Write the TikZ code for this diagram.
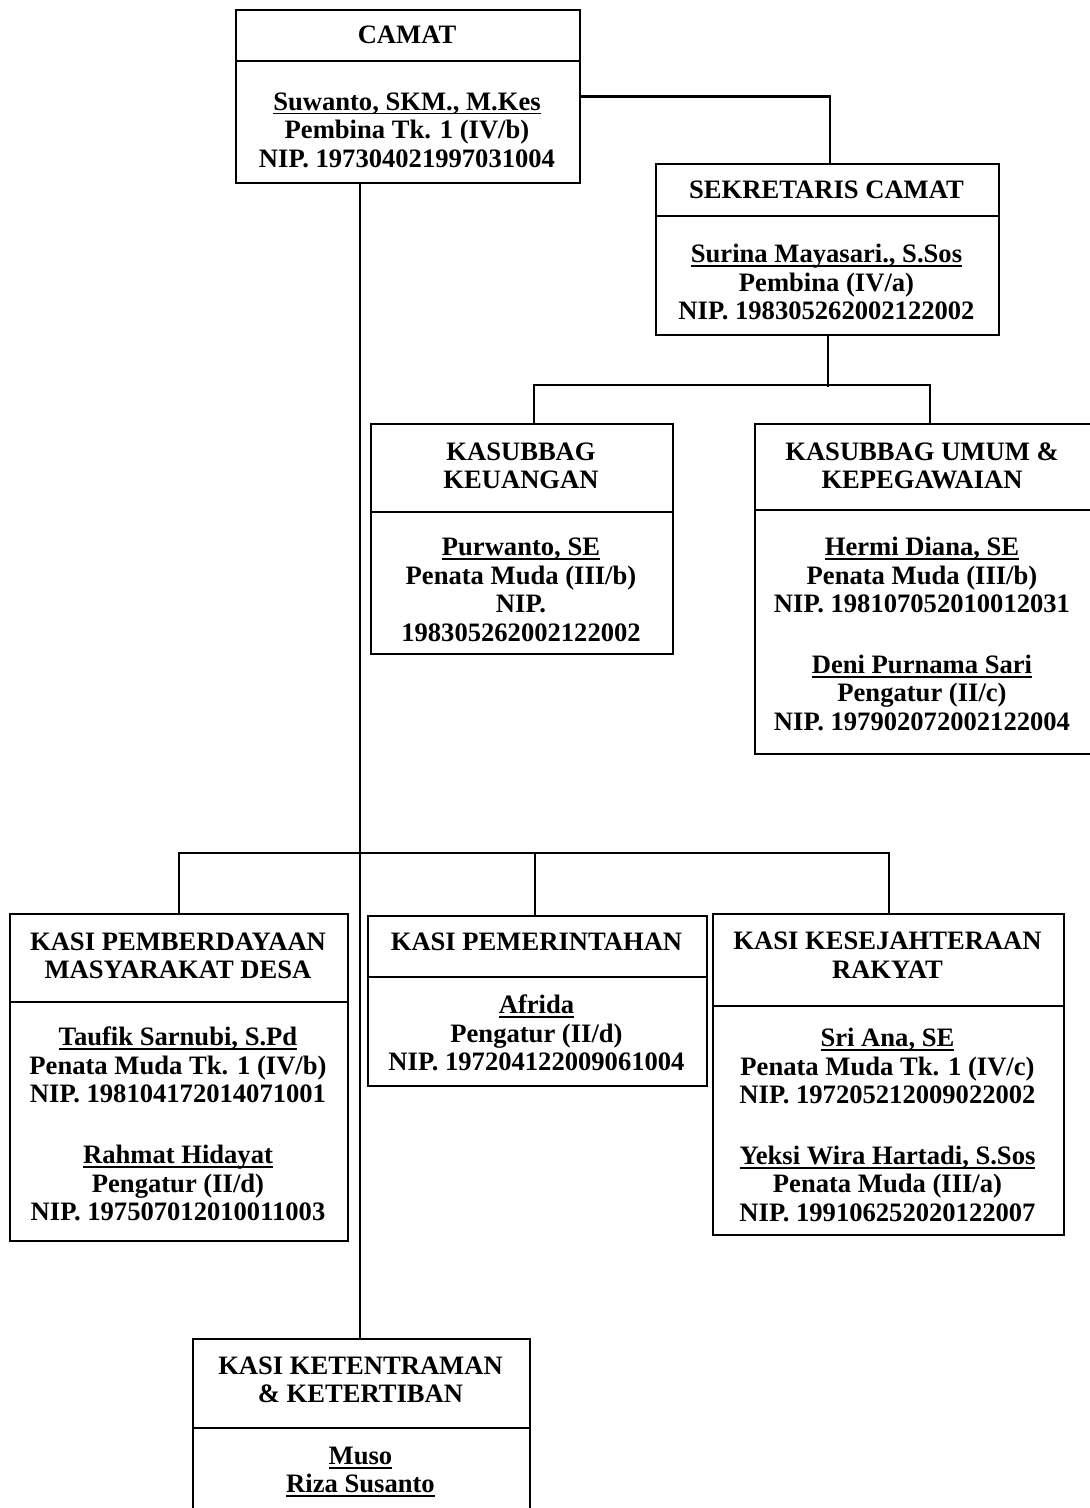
\documentclass[tikz,border=0pt]{standalone}
\usepackage{fontspec}
\setmainfont{Liberation Serif}
\newcommand{\nameul}[1]{\leavevmode\setbox0=\hbox{#1}\rlap{\rule[-2.2pt]{\wd0}{0.9pt}}\box0}
\begin{document}
\begin{tikzpicture}[x=0.5pt,y=-0.5pt,
  box/.style={draw, line width=1.1pt, inner sep=0pt, anchor=north west},
  txt/.style={align=center, inner sep=0pt, font=\fontsize{13.3pt}{14.3pt}\selectfont\bfseries},
  conn/.style={line width=1.1pt},
  divline/.style={line width=1.1pt}]
\useasboundingbox (0,0) rectangle (1089,1508);

% CAMAT
\node[box, minimum width=172pt, minimum height=86.5pt] (camat) at (235,9) {};
\draw[divline] ([yshift=-26pt]camat.north west) -- ([yshift=-26pt]camat.north east);
\node[txt] (camatT) at (407,35) {CAMAT};
\node[txt] (camatB) at (407,130) {\nameul{Suwanto, SKM., M.Kes}\\Pembina Tk. 1 (IV/b)\\NIP. 197304021997031004};

% SEKRETARIS
\node[box, minimum width=171.5pt, minimum height=85.5pt] (sek) at (655,163) {};
\draw[divline] ([yshift=-26.5pt]sek.north west) -- ([yshift=-26.5pt]sek.north east);
\node[txt] (sekT) at (826.5,190) {SEKRETARIS CAMAT};
\node[txt] (sekB) at (826.5,282) {\nameul{Surina Mayasari., S.Sos}\\Pembina (IV/a)\\NIP. 198305262002122002};

% KEUANGAN
\node[box, minimum width=151pt, minimum height=115pt] (keu) at (370,423) {};
\draw[divline] ([yshift=-44.5pt]keu.north west) -- ([yshift=-44.5pt]keu.north east);
\node[txt] (keuT) at (521,466) {KASUBBAG\\KEUANGAN};
\node[txt] (keuB) at (521,590) {\nameul{Purwanto, SE}\\Penata Muda (III/b)\\NIP.\\198305262002122002};

% UMUM
\node[box, minimum width=168pt, minimum height=165pt] (umum) at (754,423) {};
\draw[divline] ([yshift=-43.5pt]umum.north west) -- ([yshift=-43.5pt]umum.north east);
\node[txt] (umumT) at (922,466) {KASUBBAG UMUM \&\\KEPEGAWAIAN};
\node[txt] (umumB) at (922,634) {\nameul{Hermi Diana, SE}\\Penata Muda (III/b)\\NIP. 198107052010012031\\[16pt]\nameul{Deni Purnama Sari}\\Pengatur (II/c)\\NIP. 197902072002122004};

% PEMBERDAYAAN
\node[box, minimum width=169pt, minimum height=163.5pt] (pmd) at (9,913) {};
\draw[divline] ([yshift=-44.5pt]pmd.north west) -- ([yshift=-44.5pt]pmd.north east);
\node[txt] (pmdT) at (178,956) {KASI PEMBERDAYAAN\\MASYARAKAT DESA};
\node[txt] (pmdB) at (178,1124) {\nameul{Taufik Sarnubi, S.Pd}\\Penata Muda Tk. 1 (IV/b)\\NIP. 198104172014071001\\[16pt]\nameul{Rahmat Hidayat}\\Pengatur (II/d)\\NIP. 197507012010011003};

% PEMERINTAHAN
\node[box, minimum width=169.5pt, minimum height=85pt] (pem) at (367,915) {};
\draw[divline] ([yshift=-31pt]pem.north west) -- ([yshift=-31pt]pem.north east);
\node[txt] (pemT) at (536.5,942) {KASI PEMERINTAHAN};
\node[txt] (pemB) at (536.5,1033) {\nameul{Afrida}\\Pengatur (II/d)\\NIP. 197204122009061004};

% KESEJAHTERAAN
\node[box, minimum width=175.5pt, minimum height=160.5pt] (kesra) at (712,913) {};
\draw[divline] ([yshift=-46.5pt]kesra.north west) -- ([yshift=-46.5pt]kesra.north east);
\node[txt] (kesraT) at (887.5,955) {KASI KESEJAHTERAAN\\RAKYAT};
\node[txt] (kesraB) at (887.5,1125) {\nameul{Sri Ana, SE}\\Penata Muda Tk. 1 (IV/c)\\NIP. 197205212009022002\\[16pt]\nameul{Yeksi Wira Hartadi, S.Sos}\\Penata Muda (III/a)\\NIP. 199106252020122007};

% KETENTRAMAN
\node[box, minimum width=168.5pt, minimum height=111pt] (ket) at (192,1338) {};
\draw[divline] ([yshift=-45pt]ket.north west) -- ([yshift=-45pt]ket.north east);
\node[txt] (ketT) at (360.5,1380) {KASI KETENTRAMAN\\\& KETERTIBAN};
\node[txt] (ketB) at (360.5,1472) {\nameul{Muso}\\\nameul{Riza Susanto}};

% connectors
\draw[conn] (camat.east) -| ([xshift=1.25pt]sek.north);
\draw[conn] (sek.south) -- ++(0,51);
\draw[conn] ([xshift=6pt]keu.north) -- ++(0,-38) -| ([xshift=3.5pt]umum.north);
\draw[conn] ([xshift=-0.75pt]ket.north) -- ([xshift=-0.75pt]ket.north |- camat.south);
\draw[conn] (pmd.north) -- ++(0,-60) -| (kesra.north);
\draw[conn] ([xshift=-1.25pt]pem.north) -- ++(0,-62);
\end{tikzpicture}
\end{document}
